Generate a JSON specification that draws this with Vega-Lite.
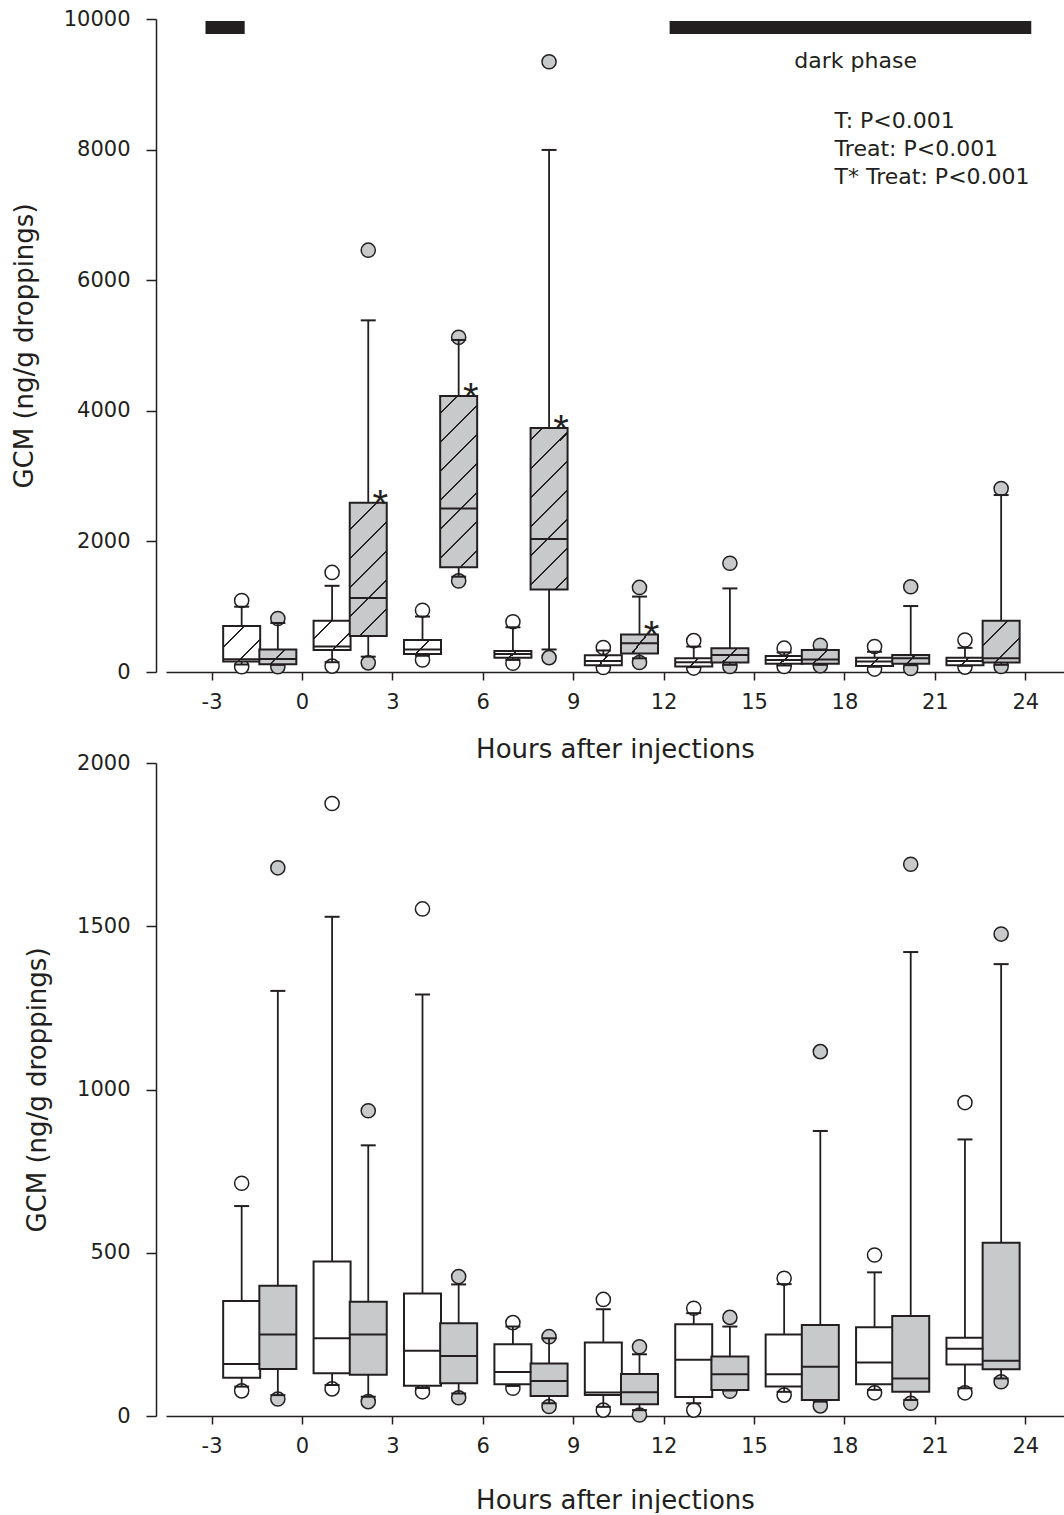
{
  "$schema": "https://vega.github.io/schema/vega-lite/v6.json",
  "padding": {"left": 11, "top": 8, "right": 0, "bottom": 0},
  "bounds": "flush",
  "spacing": 91,
  "background": "#ffffff",
  "config": {
    "font": "DejaVu Sans",
    "view": {"stroke": null},
    "tick": {"opacity": 1},
    "axis": {"domainColor": "#231f20", "domainWidth": 1.5, "tickColor": "#231f20", "tickWidth": 1.5, "labelColor": "#231f20", "titleColor": "#231f20", "labelFont": "DejaVu Sans", "titleFont": "DejaVu Sans", "labelFontSize": 21, "titleFontSize": 26, "titleFontWeight": "normal", "grid": false},
    "axisX": {"tickSize": 8, "labelPadding": 11, "titlePadding": 24, "labelExpr": "replace(datum.label, '\u2212', '-')"},
    "axisY": {"tickSize": 10, "labelPadding": 16, "titlePadding": 26, "offset": 10}
  },
  "datasets": {
    "top": [
      {"hour": -2, "group": "control", "lo_out": 80, "lo": 115, "q1": 160, "med": 195, "q3": 705, "hi": 1000, "hi_out": 1095, "sig": ""},
      {"hour": -0.8, "group": "treated", "lo_out": 80, "lo": 110, "q1": 120, "med": 200, "q3": 345, "hi": 750, "hi_out": 820, "sig": ""},
      {"hour": 1, "group": "control", "lo_out": 90, "lo": 150, "q1": 335, "med": 390, "q3": 785, "hi": 1320, "hi_out": 1525, "sig": ""},
      {"hour": 2.2, "group": "treated", "lo_out": 140, "lo": 235, "q1": 550, "med": 1135, "q3": 2590, "hi": 5385, "hi_out": 6460, "sig": "*"},
      {"hour": 4, "group": "control", "lo_out": 185, "lo": 250, "q1": 275, "med": 345, "q3": 490, "hi": 850, "hi_out": 945, "sig": ""},
      {"hour": 5.2, "group": "treated", "lo_out": 1395, "lo": 1460, "q1": 1605, "med": 2505, "q3": 4225, "hi": 5085, "hi_out": 5125, "sig": "*"},
      {"hour": 7, "group": "control", "lo_out": 135, "lo": 185, "q1": 220, "med": 275, "q3": 320, "hi": 685, "hi_out": 770, "sig": ""},
      {"hour": 8.2, "group": "treated", "lo_out": 220, "lo": 345, "q1": 1265, "med": 2035, "q3": 3735, "hi": 7995, "hi_out": 9345, "sig": "*"},
      {"hour": 10, "group": "control", "lo_out": 70, "lo": 95, "q1": 105, "med": 170, "q3": 255, "hi": 330, "hi_out": 375, "sig": ""},
      {"hour": 11.2, "group": "treated", "lo_out": 145, "lo": 210, "q1": 285, "med": 440, "q3": 575, "hi": 1155, "hi_out": 1295, "sig": "*"},
      {"hour": 13, "group": "control", "lo_out": 60, "lo": 75, "q1": 85, "med": 150, "q3": 210, "hi": 390, "hi_out": 480, "sig": ""},
      {"hour": 14.2, "group": "treated", "lo_out": 85, "lo": 110, "q1": 145, "med": 260, "q3": 365, "hi": 1280, "hi_out": 1665, "sig": ""},
      {"hour": 16, "group": "control", "lo_out": 85, "lo": 100, "q1": 125, "med": 185, "q3": 245, "hi": 300, "hi_out": 365, "sig": ""},
      {"hour": 17.2, "group": "treated", "lo_out": 95, "lo": 110, "q1": 125, "med": 190, "q3": 335, "hi": 345, "hi_out": 410, "sig": ""},
      {"hour": 19, "group": "control", "lo_out": 45, "lo": 80, "q1": 90, "med": 160, "q3": 220, "hi": 310, "hi_out": 390, "sig": ""},
      {"hour": 20.2, "group": "treated", "lo_out": 55, "lo": 105, "q1": 125, "med": 210, "q3": 260, "hi": 1010, "hi_out": 1305, "sig": ""},
      {"hour": 22, "group": "control", "lo_out": 75, "lo": 95, "q1": 105, "med": 170, "q3": 220, "hi": 370, "hi_out": 490, "sig": ""},
      {"hour": 23.2, "group": "treated", "lo_out": 85, "lo": 110, "q1": 145, "med": 210, "q3": 785, "hi": 2710, "hi_out": 2810, "sig": ""}
    ],
    "bottom": [
      {"hour": -2, "group": "control", "lo_out": 77, "lo": 90, "q1": 117, "med": 159, "q3": 352, "hi": 643, "hi_out": 713},
      {"hour": -0.8, "group": "treated", "lo_out": 52, "lo": 64, "q1": 144, "med": 250, "q3": 399, "hi": 1302, "hi_out": 1679},
      {"hour": 1, "group": "control", "lo_out": 83, "lo": 95, "q1": 131, "med": 238, "q3": 473, "hi": 1529, "hi_out": 1876},
      {"hour": 2.2, "group": "treated", "lo_out": 44, "lo": 59, "q1": 126, "med": 250, "q3": 350, "hi": 829, "hi_out": 935},
      {"hour": 4, "group": "control", "lo_out": 74, "lo": 86, "q1": 93, "med": 200, "q3": 375, "hi": 1291, "hi_out": 1553},
      {"hour": 5.2, "group": "treated", "lo_out": 56, "lo": 69, "q1": 100, "med": 184, "q3": 284, "hi": 403, "hi_out": 427},
      {"hour": 7, "group": "control", "lo_out": 85, "lo": 92, "q1": 97, "med": 135, "q3": 220, "hi": 274, "hi_out": 286},
      {"hour": 8.2, "group": "treated", "lo_out": 29, "lo": 39, "q1": 61, "med": 107, "q3": 161, "hi": 238, "hi_out": 243},
      {"hour": 10, "group": "control", "lo_out": 18, "lo": 28, "q1": 64, "med": 72, "q3": 225, "hi": 327, "hi_out": 357},
      {"hour": 11.2, "group": "treated", "lo_out": 3, "lo": 18, "q1": 36, "med": 73, "q3": 129, "hi": 189, "hi_out": 212},
      {"hour": 13, "group": "control", "lo_out": 18, "lo": 39, "q1": 58, "med": 172, "q3": 281, "hi": 315, "hi_out": 330},
      {"hour": 14.2, "group": "treated", "lo_out": 76, "lo": 78, "q1": 80, "med": 128, "q3": 182, "hi": 274, "hi_out": 302},
      {"hour": 16, "group": "control", "lo_out": 64, "lo": 74, "q1": 90, "med": 128, "q3": 250, "hi": 404, "hi_out": 422},
      {"hour": 17.2, "group": "treated", "lo_out": 31, "lo": 44, "q1": 49, "med": 151, "q3": 279, "hi": 873, "hi_out": 1116},
      {"hour": 19, "group": "control", "lo_out": 71, "lo": 80, "q1": 97, "med": 164, "q3": 272, "hi": 440, "hi_out": 493},
      {"hour": 20.2, "group": "treated", "lo_out": 39, "lo": 49, "q1": 74, "med": 115, "q3": 306, "hi": 1421, "hi_out": 1690},
      {"hour": 22, "group": "control", "lo_out": 71, "lo": 85, "q1": 158, "med": 206, "q3": 240, "hi": 847, "hi_out": 960},
      {"hour": 23.2, "group": "treated", "lo_out": 105, "lo": 115, "q1": 143, "med": 169, "q3": 531, "hi": 1384, "hi_out": 1476}
    ],
    "phase": [
      {"start": -3.2, "end": -1.9, "label": ""},
      {"start": 12.2, "end": 24.2, "label": "dark phase"}
    ]
  },
  "vconcat": [
    {
      "width": 898,
      "height": 653,
      "data": {"name": "top"},
      "encoding": {
        "x": {"field": "hour", "type": "quantitative", "title": "Hours after injections", "scale": {"domain": [-4.345, 25.12], "nice": false, "zero": false}, "axis": {"values": [-3, 0, 3, 6, 9, 12, 15, 18, 21, 24]}}
      },
      "layer": [
        {
          "mark": {"type": "circle", "size": 200, "stroke": "#231f20", "strokeWidth": 1.5, "opacity": 1},
          "encoding": {
            "y": {"field": "hi_out", "type": "quantitative", "title": "GCM (ng/g droppings)", "scale": {"domain": [0, 10000], "nice": false, "zero": true}, "axis": {"values": [0, 2000, 4000, 6000, 8000, 10000], "format": "d"}},
            "fill": {"field": "group", "type": "nominal", "scale": {"domain": ["control", "treated"], "range": ["#ffffff", "#c8c9cb"]}, "legend": null}
          }
        },
        {
          "mark": {"type": "circle", "size": 200, "stroke": "#231f20", "strokeWidth": 1.5, "opacity": 1},
          "encoding": {
            "y": {"field": "lo_out", "type": "quantitative", "title": "GCM (ng/g droppings)"},
            "fill": {"field": "group", "type": "nominal", "scale": {"domain": ["control", "treated"], "range": ["#ffffff", "#c8c9cb"]}, "legend": null}
          }
        },
        {
          "mark": {"type": "rule", "color": "#231f20", "strokeWidth": 1.8},
          "encoding": {"y": {"field": "lo", "type": "quantitative", "title": "GCM (ng/g droppings)"}, "y2": {"field": "hi"}}
        },
        {
          "mark": {"type": "tick", "orient": "horizontal", "size": 15, "thickness": 2, "color": "#231f20", "opacity": 1},
          "encoding": {"y": {"field": "hi", "type": "quantitative", "title": "GCM (ng/g droppings)"}}
        },
        {
          "mark": {"type": "tick", "orient": "horizontal", "size": 15, "thickness": 2, "color": "#231f20", "opacity": 1},
          "encoding": {"y": {"field": "lo", "type": "quantitative", "title": "GCM (ng/g droppings)"}}
        },
        {
          "mark": {"type": "bar", "width": 37, "stroke": "#231f20", "strokeWidth": 2},
          "encoding": {
            "y": {"field": "q1", "type": "quantitative", "title": "GCM (ng/g droppings)"},
            "y2": {"field": "q3"},
            "fill": {
              "condition": [
                {"test": "indexof([7,10,13,16,19,22], datum.hour) >= 0", "value": {"gradient": "linear", "x1": 0, "y1": 0, "x2": 1.166, "y2": 0.2615, "stops": [{"offset": 0, "color": "#ffffff"}, {"offset": 0.477, "color": "#ffffff"}, {"offset": 0.477, "color": "#231f20"}, {"offset": 0.523, "color": "#231f20"}, {"offset": 0.523, "color": "#ffffff"}, {"offset": 1, "color": "#ffffff"}]}},
                {"test": "datum.hour === 20.2", "value": {"gradient": "linear", "x1": 0, "y1": 0, "x2": 1.166, "y2": 0.2615, "stops": [{"offset": 0, "color": "#c8c9cb"}, {"offset": 0.477, "color": "#c8c9cb"}, {"offset": 0.477, "color": "#231f20"}, {"offset": 0.523, "color": "#231f20"}, {"offset": 0.523, "color": "#c8c9cb"}, {"offset": 1, "color": "#c8c9cb"}]}},
                {"test": "datum.hour === 4", "value": {"gradient": "linear", "x1": 0, "y1": 0, "x2": 1.207, "y2": 0.489, "stops": [{"offset": 0, "color": "#ffffff"}, {"offset": 0.48, "color": "#ffffff"}, {"offset": 0.48, "color": "#231f20"}, {"offset": 0.52, "color": "#231f20"}, {"offset": 0.52, "color": "#ffffff"}, {"offset": 1, "color": "#ffffff"}]}},
                {"test": "indexof([-0.8,11.2,14.2,17.2], datum.hour) >= 0", "value": {"gradient": "linear", "x1": 0, "y1": 0, "x2": 1.207, "y2": 0.489, "stops": [{"offset": 0, "color": "#c8c9cb"}, {"offset": 0.48, "color": "#c8c9cb"}, {"offset": 0.48, "color": "#231f20"}, {"offset": 0.52, "color": "#231f20"}, {"offset": 0.52, "color": "#c8c9cb"}, {"offset": 1, "color": "#c8c9cb"}]}},
                {"test": "datum.hour === 1", "value": {"gradient": "linear", "x1": 0, "y1": 0, "x2": 1.1, "y2": 0.874, "stops": [{"offset": 0, "color": "#ffffff"}, {"offset": 0.264, "color": "#ffffff"}, {"offset": 0.264, "color": "#231f20"}, {"offset": 0.296, "color": "#231f20"}, {"offset": 0.296, "color": "#ffffff"}, {"offset": 0.704, "color": "#ffffff"}, {"offset": 0.704, "color": "#231f20"}, {"offset": 0.736, "color": "#231f20"}, {"offset": 0.736, "color": "#ffffff"}, {"offset": 1, "color": "#ffffff"}]}},
                {"test": "datum.hour === -2", "value": {"gradient": "linear", "x1": 0, "y1": 0, "x2": 1.019, "y2": 0.98, "stops": [{"offset": 0, "color": "#ffffff"}, {"offset": 0.2855, "color": "#ffffff"}, {"offset": 0.2855, "color": "#231f20"}, {"offset": 0.3145, "color": "#231f20"}, {"offset": 0.3145, "color": "#ffffff"}, {"offset": 0.6855, "color": "#ffffff"}, {"offset": 0.6855, "color": "#231f20"}, {"offset": 0.7145, "color": "#231f20"}, {"offset": 0.7145, "color": "#ffffff"}, {"offset": 1, "color": "#ffffff"}]}},
                {"test": "datum.hour === 23.2", "value": {"gradient": "linear", "x1": 0, "y1": 0, "x2": 0.936, "y2": 1.057, "stops": [{"offset": 0, "color": "#c8c9cb"}, {"offset": 0.3025, "color": "#c8c9cb"}, {"offset": 0.3025, "color": "#231f20"}, {"offset": 0.3295, "color": "#231f20"}, {"offset": 0.3295, "color": "#c8c9cb"}, {"offset": 0.6705, "color": "#c8c9cb"}, {"offset": 0.6705, "color": "#231f20"}, {"offset": 0.6975, "color": "#231f20"}, {"offset": 0.6975, "color": "#c8c9cb"}, {"offset": 1, "color": "#c8c9cb"}]}},
                {"test": "datum.hour === 2.2", "value": {"gradient": "linear", "x1": 0, "y1": 0, "x2": 0.3295, "y2": 1.1863, "stops": [{"offset": 0, "color": "#c8c9cb"}, {"offset": 0.153, "color": "#c8c9cb"}, {"offset": 0.153, "color": "#231f20"}, {"offset": 0.165, "color": "#231f20"}, {"offset": 0.165, "color": "#c8c9cb"}, {"offset": 0.324, "color": "#c8c9cb"}, {"offset": 0.324, "color": "#231f20"}, {"offset": 0.336, "color": "#231f20"}, {"offset": 0.336, "color": "#c8c9cb"}, {"offset": 0.494, "color": "#c8c9cb"}, {"offset": 0.494, "color": "#231f20"}, {"offset": 0.506, "color": "#231f20"}, {"offset": 0.506, "color": "#c8c9cb"}, {"offset": 0.664, "color": "#c8c9cb"}, {"offset": 0.664, "color": "#231f20"}, {"offset": 0.676, "color": "#231f20"}, {"offset": 0.676, "color": "#c8c9cb"}, {"offset": 0.835, "color": "#c8c9cb"}, {"offset": 0.835, "color": "#231f20"}, {"offset": 0.847, "color": "#231f20"}, {"offset": 0.847, "color": "#c8c9cb"}, {"offset": 1, "color": "#c8c9cb"}]}},
                {"test": "datum.hour === 5.2", "value": {"gradient": "linear", "x1": 0, "y1": 0, "x2": 0.2513, "y2": 1.162, "stops": [{"offset": 0, "color": "#c8c9cb"}, {"offset": 0.077, "color": "#c8c9cb"}, {"offset": 0.077, "color": "#231f20"}, {"offset": 0.087, "color": "#231f20"}, {"offset": 0.087, "color": "#c8c9cb"}, {"offset": 0.216, "color": "#c8c9cb"}, {"offset": 0.216, "color": "#231f20"}, {"offset": 0.226, "color": "#231f20"}, {"offset": 0.226, "color": "#c8c9cb"}, {"offset": 0.356, "color": "#c8c9cb"}, {"offset": 0.356, "color": "#231f20"}, {"offset": 0.366, "color": "#231f20"}, {"offset": 0.366, "color": "#c8c9cb"}, {"offset": 0.495, "color": "#c8c9cb"}, {"offset": 0.495, "color": "#231f20"}, {"offset": 0.505, "color": "#231f20"}, {"offset": 0.505, "color": "#c8c9cb"}, {"offset": 0.634, "color": "#c8c9cb"}, {"offset": 0.634, "color": "#231f20"}, {"offset": 0.644, "color": "#231f20"}, {"offset": 0.644, "color": "#c8c9cb"}, {"offset": 0.774, "color": "#c8c9cb"}, {"offset": 0.774, "color": "#231f20"}, {"offset": 0.784, "color": "#231f20"}, {"offset": 0.784, "color": "#c8c9cb"}, {"offset": 0.913, "color": "#c8c9cb"}, {"offset": 0.913, "color": "#231f20"}, {"offset": 0.923, "color": "#231f20"}, {"offset": 0.923, "color": "#c8c9cb"}, {"offset": 1, "color": "#c8c9cb"}]}},
                {"test": "datum.hour === 8.2", "value": {"gradient": "linear", "x1": 0, "y1": 0, "x2": 0.2679, "y2": 1.168, "stops": [{"offset": 0, "color": "#c8c9cb"}, {"offset": 0.0556, "color": "#c8c9cb"}, {"offset": 0.0556, "color": "#231f20"}, {"offset": 0.0664, "color": "#231f20"}, {"offset": 0.0664, "color": "#c8c9cb"}, {"offset": 0.2026, "color": "#c8c9cb"}, {"offset": 0.2026, "color": "#231f20"}, {"offset": 0.2134, "color": "#231f20"}, {"offset": 0.2134, "color": "#c8c9cb"}, {"offset": 0.3486, "color": "#c8c9cb"}, {"offset": 0.3486, "color": "#231f20"}, {"offset": 0.3594, "color": "#231f20"}, {"offset": 0.3594, "color": "#c8c9cb"}, {"offset": 0.4946, "color": "#c8c9cb"}, {"offset": 0.4946, "color": "#231f20"}, {"offset": 0.5054, "color": "#231f20"}, {"offset": 0.5054, "color": "#c8c9cb"}, {"offset": 0.6406, "color": "#c8c9cb"}, {"offset": 0.6406, "color": "#231f20"}, {"offset": 0.6514, "color": "#231f20"}, {"offset": 0.6514, "color": "#c8c9cb"}, {"offset": 0.7866, "color": "#c8c9cb"}, {"offset": 0.7866, "color": "#231f20"}, {"offset": 0.7974, "color": "#231f20"}, {"offset": 0.7974, "color": "#c8c9cb"}, {"offset": 0.9336, "color": "#c8c9cb"}, {"offset": 0.9336, "color": "#231f20"}, {"offset": 0.9444, "color": "#231f20"}, {"offset": 0.9444, "color": "#c8c9cb"}, {"offset": 1, "color": "#c8c9cb"}]}}
              ],
              "field": "group", "type": "nominal", "scale": {"domain": ["control", "treated"], "range": ["#ffffff", "#c8c9cb"]}, "legend": null
            }
          }
        },
        {
          "mark": {"type": "tick", "orient": "horizontal", "size": 37, "thickness": 2, "color": "#231f20", "opacity": 1},
          "encoding": {"y": {"field": "med", "type": "quantitative", "title": "GCM (ng/g droppings)"}}
        },
        {
          "mark": {"type": "text", "font": "Liberation Sans", "fontSize": 40, "align": "center", "baseline": "alphabetic", "dx": 12, "dy": 15, "color": "#231f20"},
          "encoding": {"y": {"field": "q3", "type": "quantitative", "title": "GCM (ng/g droppings)"}, "text": {"field": "sig"}}
        },
        {
          "data": {"name": "phase"},
          "mark": {"type": "rect", "color": "#231f20"},
          "encoding": {"x": {"field": "start", "type": "quantitative", "title": "Hours after injections"}, "x2": {"field": "end"}, "y": {"datum": 9970, "type": "quantitative", "title": "GCM (ng/g droppings)"}, "y2": {"datum": 9770}}
        },
        {
          "data": {"name": "phase"},
          "transform": [{"filter": "datum.label !== ''"}],
          "mark": {"type": "text", "font": "DejaVu Sans", "fontSize": 22, "align": "center", "baseline": "alphabetic", "dx": 186, "color": "#231f20"},
          "encoding": {"x": {"field": "start", "type": "quantitative", "title": "Hours after injections"}, "y": {"datum": 9250, "type": "quantitative", "title": "GCM (ng/g droppings)"}, "text": {"field": "label"}}
        },
        {
          "data": {"name": "phase"},
          "transform": [{"filter": "datum.label !== ''"}],
          "mark": {"type": "text", "font": "DejaVu Sans", "fontSize": 22, "align": "left", "baseline": "alphabetic", "lineHeight": 28, "dx": 165, "color": "#231f20"},
          "encoding": {"x": {"field": "start", "type": "quantitative", "title": "Hours after injections"}, "y": {"datum": 8331, "type": "quantitative", "title": "GCM (ng/g droppings)"}, "text": {"value": ["T: P<0.001", "Treat: P<0.001", "T* Treat: P<0.001"]}}
        }
      ]
    },
    {
      "width": 898,
      "height": 653,
      "data": {"name": "bottom"},
      "encoding": {
        "x": {"field": "hour", "type": "quantitative", "title": "Hours after injections", "scale": {"domain": [-4.345, 25.12], "nice": false, "zero": false}, "axis": {"values": [-3, 0, 3, 6, 9, 12, 15, 18, 21, 24], "titlePadding": 31}}
      },
      "layer": [
        {
          "mark": {"type": "circle", "size": 200, "stroke": "#231f20", "strokeWidth": 1.5, "opacity": 1},
          "encoding": {
            "y": {"field": "hi_out", "type": "quantitative", "title": "GCM (ng/g droppings)", "scale": {"domain": [0, 2000], "nice": false, "zero": true}, "axis": {"values": [0, 500, 1000, 1500, 2000], "format": "d"}},
            "fill": {"field": "group", "type": "nominal", "scale": {"domain": ["control", "treated"], "range": ["#ffffff", "#c8c9cb"]}, "legend": null}
          }
        },
        {
          "mark": {"type": "circle", "size": 200, "stroke": "#231f20", "strokeWidth": 1.5, "opacity": 1},
          "encoding": {
            "y": {"field": "lo_out", "type": "quantitative", "title": "GCM (ng/g droppings)"},
            "fill": {"field": "group", "type": "nominal", "scale": {"domain": ["control", "treated"], "range": ["#ffffff", "#c8c9cb"]}, "legend": null}
          }
        },
        {
          "mark": {"type": "rule", "color": "#231f20", "strokeWidth": 1.8},
          "encoding": {"y": {"field": "lo", "type": "quantitative", "title": "GCM (ng/g droppings)"}, "y2": {"field": "hi"}}
        },
        {
          "mark": {"type": "tick", "orient": "horizontal", "size": 15, "thickness": 2, "color": "#231f20", "opacity": 1},
          "encoding": {"y": {"field": "hi", "type": "quantitative", "title": "GCM (ng/g droppings)"}}
        },
        {
          "mark": {"type": "tick", "orient": "horizontal", "size": 15, "thickness": 2, "color": "#231f20", "opacity": 1},
          "encoding": {"y": {"field": "lo", "type": "quantitative", "title": "GCM (ng/g droppings)"}}
        },
        {
          "mark": {"type": "bar", "width": 37, "stroke": "#231f20", "strokeWidth": 2},
          "encoding": {
            "y": {"field": "q1", "type": "quantitative", "title": "GCM (ng/g droppings)"},
            "y2": {"field": "q3"},
            "fill": {"field": "group", "type": "nominal", "scale": {"domain": ["control", "treated"], "range": ["#ffffff", "#c8c9cb"]}, "legend": null}
          }
        },
        {
          "mark": {"type": "tick", "orient": "horizontal", "size": 37, "thickness": 2, "color": "#231f20", "opacity": 1},
          "encoding": {"y": {"field": "med", "type": "quantitative", "title": "GCM (ng/g droppings)"}}
        }
      ]
    }
  ]
}
